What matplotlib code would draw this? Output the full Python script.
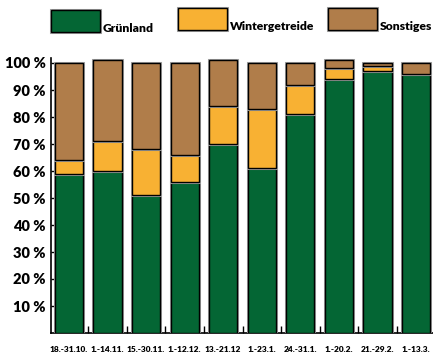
import matplotlib.pyplot as plt
import matplotlib.patches as patches
import matplotlib.patheffects as pe

# data
periods = ["18.-31.10.", "1.-14.11.", "15.-30.11.", "1.-12.12.", "13.-21.12",
           "1.-23.1.", "24.-31.1.", "1.-20.2.", "21.-29.2.", "1.-13.3."]
gruenland = [59, 60, 51, 56, 70, 61, 81, 94, 97, 96]
winter = [5, 11, 17, 10, 14, 22, 11, 4, 2, 0]
sonstiges = [36, 30, 32, 34, 17, 17, 8, 3, 1, 4]
series_names = ["Grünland", "Wintergetreide", "Sonstiges"]
colors = ["#046634", "#F8B133", "#B07D4A"]

plt.rcParams['font.family'] = ['Lato', 'DejaVu Sans']
plt.rcParams['font.weight'] = 'bold'

fig = plt.figure(figsize=(4.33, 3.52), dpi=100)
ax = fig.add_axes([51/433, 1 - 333/352, 382/433, 275.4/352])

shadow = [pe.Stroke(linewidth=2.2, foreground='#a0a0a0'), pe.Normal()]

x = list(range(len(periods)))
bottom = [0] * len(x)
for vals, col in zip([gruenland, winter, sonstiges], colors):
    bars = ax.bar(x, vals, width=0.73, bottom=bottom, color=col,
                  edgecolor='black', linewidth=1, zorder=3)
    for b in bars:
        b.set_path_effects(shadow)
    bottom = [b_ + v for b_, v in zip(bottom, vals)]

ax.set_xlim(-0.467, 9.44)
ax.set_ylim(0, 102)

ax.set_yticks(range(10, 101, 10))
ax.set_yticklabels([f"{v} %" for v in range(10, 101, 10)], fontsize=10.5, fontweight='heavy')
ax.tick_params(axis='y', direction='in', length=4, width=1, pad=4)

ax.set_xticks(x)
ax.set_xticklabels(periods, fontsize=6, fontweight='heavy')
ax.tick_params(axis='x', which='major', length=0, pad=9)
ax.set_xticks([i + 0.5 for i in range(len(x) - 1)], minor=True)
ax.tick_params(axis='x', which='minor', direction='in', length=5, width=1)

for s in ['top', 'right']:
    ax.spines[s].set_visible(False)
ax.spines['left'].set_linewidth(1.2)
ax.spines['bottom'].set_linewidth(1.2)

# legend drawn by hand
leg_boxes = [(51, 10), (178, 8), (328, 8)]
for (px, py), name, col in zip(leg_boxes, series_names, colors):
    rect = patches.Rectangle((px / 433, 1 - (py + 22) / 352), 49 / 433, 22 / 352,
                             transform=fig.transFigure, facecolor=col,
                             edgecolor='black', linewidth=1)
    rect.set_path_effects(shadow)
    fig.patches.append(rect)
    fig.text((px + 52) / 433, 1 - (py + 18) / 352, name, fontsize=8.7,
             fontweight='heavy', ha='left', va='center')

fig.savefig("out.png", dpi=100)
